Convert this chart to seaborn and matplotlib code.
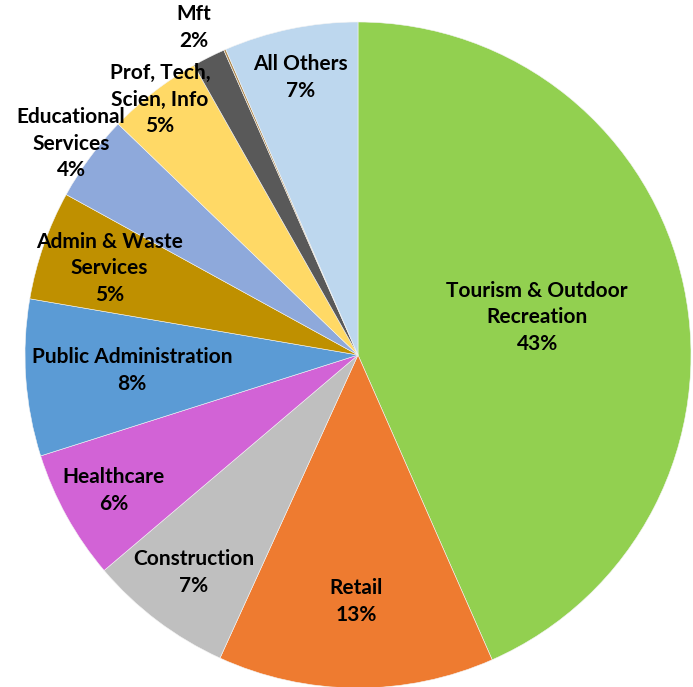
import numpy as np
import matplotlib
matplotlib.use("Agg")
import matplotlib.pyplot as plt
import seaborn as sns

# sectors, clockwise from 12 o'clock
sectors = ["Tourism & Outdoor\nRecreation", "Retail", "Construction", "Healthcare",
           "Public Administration", "Admin & Waste\nServices", "Educational\nServices",
           "Prof, Tech,\nScien, Info", "Mft", "", "All Others"]
shares = [43.4, 13.4, 7.0, 6.3, 7.6, 5.3, 4.2, 4.6, 1.6, 0.1, 6.5]
pct_labels = ["43%", "13%", "7%", "6%", "8%", "5%", "4%", "5%", "2%", "", "7%"]
colors = ["#92D050", "#EE7B30", "#BFBFBF", "#D263D6", "#5B9BD5", "#BF9000",
          "#8EA9DB", "#FFD966", "#595959", "#B08A50", "#BDD7EE"]
# label distance from centre (fraction of radius)
label_r = [0.55, 0.74, 0.82, 0.84, 0.68, 0.79, 1.07, 0.97, 1.10, 0, 0.85]

sns.set_theme(style="white")
plt.rcParams["font.family"] = ["Lato", "DejaVu Sans"]

fig = plt.figure(figsize=(6.93, 6.87), dpi=100)
ax = fig.add_axes([0, 0, 1, 1])

wedges, _ = ax.pie(shares, colors=colors, startangle=90, counterclock=False,
                   radius=1, wedgeprops=dict(linewidth=0.4, edgecolor="#f4f4f4"))

for w, name, pct, r in zip(wedges, sectors, pct_labels, label_r):
    if not name:
        continue
    ang = np.deg2rad((w.theta1 + w.theta2) / 2)
    ax.text(r * np.cos(ang), r * np.sin(ang), name + "\n" + pct,
            ha="center", va="center", fontsize=15, fontweight="bold",
            color="black", linespacing=1.42)

ax.set_xlim(-358 / 333, (693 - 358) / 333)
ax.set_ylim(-(687 - 355) / 333, 355 / 333)
ax.set_aspect("auto")
ax.axis("off")

fig.savefig("out.png", dpi=100)
